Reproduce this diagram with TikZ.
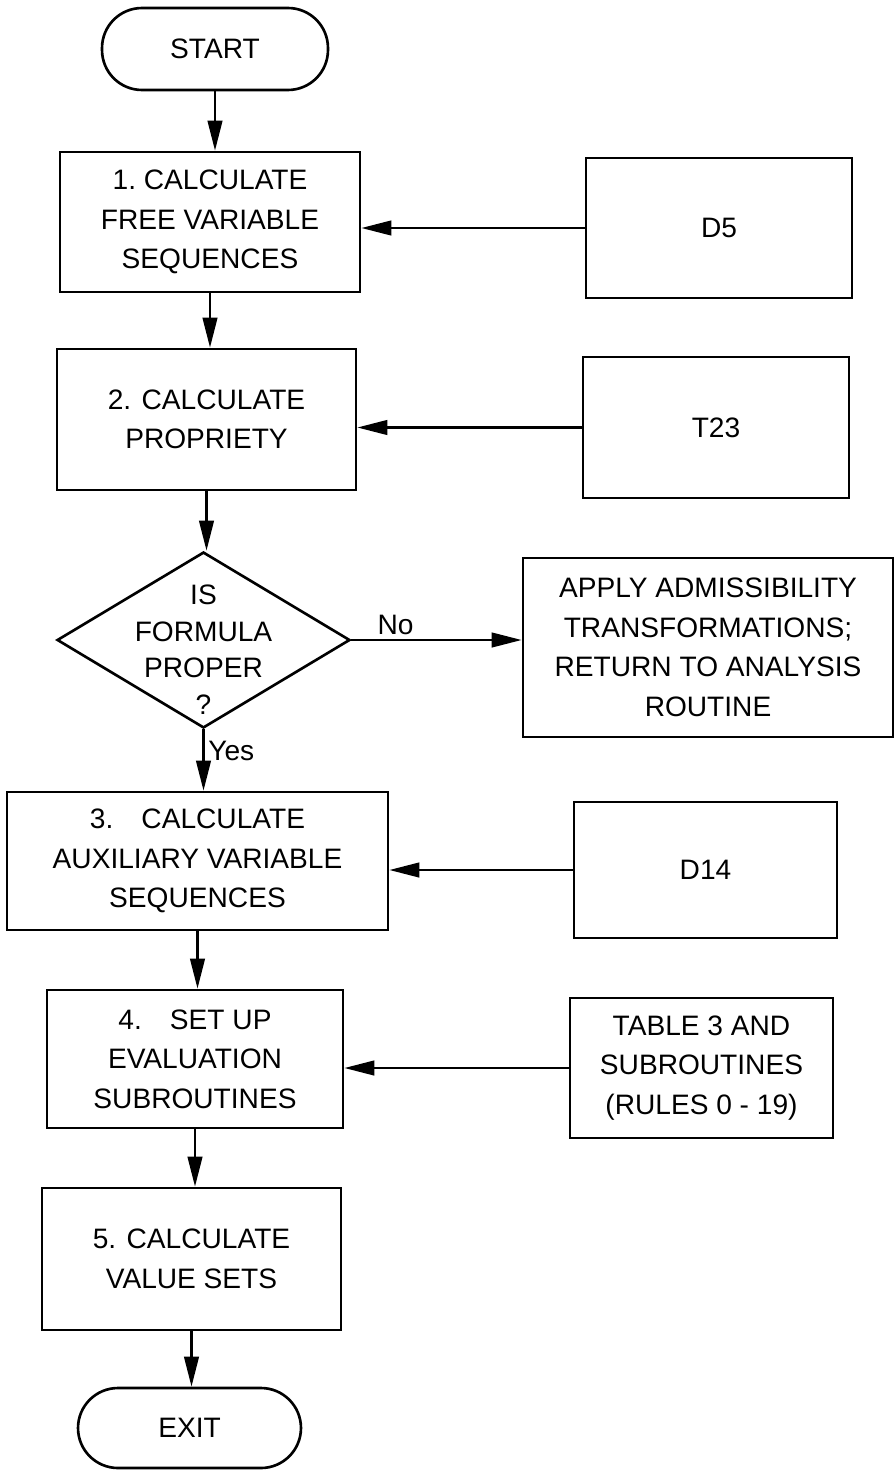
\documentclass[tikz,border=0pt]{standalone}
\usepackage{fontspec}
\setmainfont{Liberation Sans}
\usetikzlibrary{arrows.meta,shapes.geometric}

\begin{document}
\begin{tikzpicture}[x=0.02cm,y=-0.02cm,
	every node/.style={font=\fontsize{16}{22.5}\selectfont},
	box/.style={draw, line width=1.5pt, rectangle, align=center, inner sep=2pt},
	term/.style={box, rounded corners=0.8cm},
	decision/.style={draw, line width=1.5pt, diamond, inner sep=0pt},
	flow/.style={line width=1.5pt, -{Triangle[length=6mm,width=2.9mm]}},
	small/.style={font=\fontsize{16}{18}\selectfont, inner sep=2pt}]
	\useasboundingbox (0,0) rectangle (895,1470);
	% main column
	\node[term, minimum width=4.52cm, minimum height=1.64cm] (start) at (215,49) {START};
	\node[box, minimum width=6cm, minimum height=2.8cm] (calcfree) at (210,222)
		{1.\ CALCULATE\\FREE VARIABLE\\SEQUENCES};
	\node[box, minimum width=5.98cm, minimum height=2.82cm] (calcprop) at (206.5,419.5)
		{2. CALCULATE\\PROPRIETY};
	\node[decision, minimum width=5.86cm, minimum height=3.52cm,
		label={[align=center, yshift=-0.19cm, font=\fontsize{16}{20.8}\selectfont]center:IS\\FORMULA\\PROPER\\?}] (proper) at (203.5,640) {};
	\node[box, minimum width=7.62cm, minimum height=2.76cm] (calcaux) at (197.5,861)
		{3.\quad CALCULATE\\AUXILIARY VARIABLE\\SEQUENCES};
	\node[box, minimum width=5.92cm, minimum height=2.76cm] (setup) at (195,1059)
		{4.\quad SET UP\\EVALUATION\\SUBROUTINES};
	\node[box, minimum width=5.98cm, minimum height=2.84cm] (calcval) at (191.5,1259)
		{5. CALCULATE\\VALUE SETS};
	\node[term, minimum width=4.46cm, minimum height=1.6cm] (exit) at (189.5,1428) {EXIT};
	% inputs on the right
	\node[box, minimum width=5.32cm, minimum height=2.8cm] (dfive) at (719,228) {D5};
	\node[box, minimum width=5.32cm, minimum height=2.82cm] (ttwothree) at (716,427.5) {T23};
	\node[box, minimum width=7.4cm, minimum height=3.58cm] (admiss) at (708,647.5)
		{APPLY ADMISSIBILITY\\TRANSFORMATIONS;\\RETURN TO ANALYSIS\\ROUTINE};
	\node[box, minimum width=5.26cm, minimum height=2.72cm] (dfourteen) at (705.5,870) {D14};
	\node[box, minimum width=5.26cm, minimum height=2.8cm] (tablethree) at (701.5,1068)
		{TABLE 3 AND\\SUBROUTINES\\(RULES 0 - 19)};
	
	\draw[flow] (start.south) -- (start.south |- calcfree.north);
	\draw[flow] (calcfree.south) -- (calcfree.south |- calcprop.north);
	\draw[flow] (calcprop.south) -- (calcprop.south |- proper.north);
	\draw[flow] (proper.south) -- node[small, right, pos=0.36] {Yes} (proper.south |- calcaux.north);
	\draw[flow] (calcaux.south) -- (calcaux.south |- setup.north);
	\draw[flow] (setup.south) -- (setup.south |- calcval.north);
	\draw[flow] (calcval.south) -- (calcval.south |- exit.north);
	\draw[flow] (proper.east) -- node[small, above, pos=0.26] {No} (proper.east -| admiss.west);
	\draw[flow] (dfive.west) -- (dfive.west -| calcfree.east);
	\draw[flow] (ttwothree.west) -- (ttwothree.west -| calcprop.east);
	\draw[flow] (dfourteen.west) -- (dfourteen.west -| calcaux.east);
	\draw[flow] (tablethree.west) -- (tablethree.west -| setup.east);
	
\end{tikzpicture}
\end{document}
